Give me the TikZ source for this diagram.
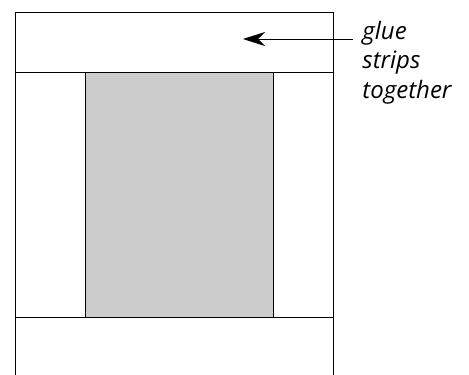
\documentclass[tikz,border=0pt]{standalone}
\usepackage{fontspec}
\setmainfont{Open Sans}
\usetikzlibrary{arrows.meta}
\begin{document}
\begin{tikzpicture}[x=1pt,y=-1pt,line width=0.9pt]
  \useasboundingbox (0,0) rectangle (469,375);
  \fill[black!20] (85,72) rectangle (273,317);
  \draw (85,72)--(85,317); \draw (273,72)--(273,317);
  \draw (15,380)--(15,12)--(333,12)--(333,380);
  \draw (15,72)--(333,72); \draw (15,317)--(333,317);
  \node[anchor=base west,align=left,inner sep=0pt,font=\itshape\fontsize{24}{29.5}\selectfont]
    (lbl) at (362,98) {glue\\strips\\together};
  \coordinate (tip) at (243,39);
  \draw[-{Stealth[length=22pt,width=14pt,inset=7pt]}] (353,39) -- (tip);
\end{tikzpicture}
\end{document}
